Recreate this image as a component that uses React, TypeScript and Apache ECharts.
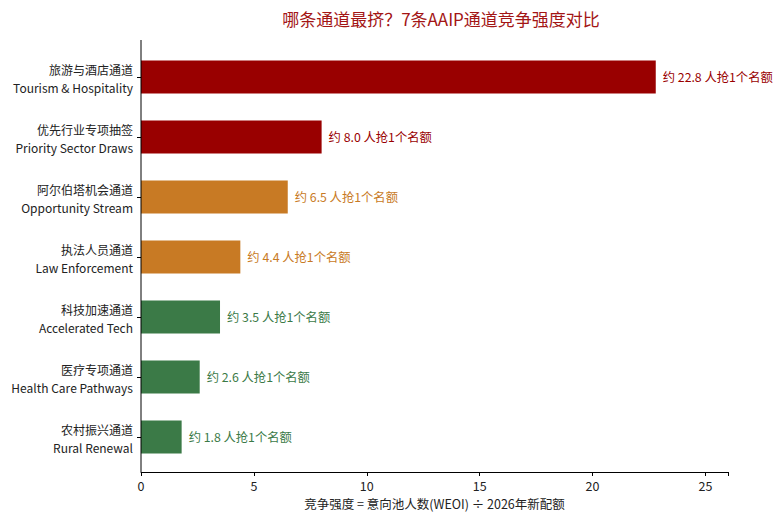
import React, { useEffect, useRef } from 'react';
import * as echarts from 'echarts';

const streamsCn = ['旅游与酒店通道', '优先行业专项抽签', '阿尔伯塔机会通道', '执法人员通道', '科技加速通道', '医疗专项通道', '农村振兴通道'];
const streamsEn = ['Tourism & Hospitality', 'Priority Sector Draws', 'Opportunity Stream', 'Law Enforcement', 'Accelerated Tech', 'Health Care Pathways', 'Rural Renewal'];
const ratios = [22.8, 8.0, 6.5, 4.4, 3.5, 2.6, 1.8];
const barColors = ['#990000', '#990000', '#c87a24', '#c87a24', '#3b7a47', '#3b7a47', '#3b7a47'];

const FONT = '"Noto Sans CJK SC", "Noto Sans", sans-serif';

export default function App() {
  const chartRef = useRef<HTMLDivElement>(null);

  useEffect(() => {
    document.body.style.margin = '0';
    if (!chartRef.current) return;
    const myChart = echarts.init(chartRef.current, null, { renderer: 'svg' });

    const option: echarts.EChartsOption = {
      animation: false,
      backgroundColor: '#ffffff',
      textStyle: { fontFamily: FONT },
      title: {
        text: '哪条通道最挤？7条AAIP通道竞争强度对比',
        left: 436,
        top: 5,
        textAlign: 'center',
        textStyle: { fontFamily: FONT, fontSize: 17, fontWeight: 'normal', color: '#a31515' },
      },
      grid: { left: 141, right: 52, top: 47, height: 420, outerBoundsMode: 'none' } as any,
      xAxis: {
        type: 'value',
        min: 0,
        max: 26,
        interval: 5,
        offset: 5,
        name: '竞争强度 = 意向池人数(WEOI) ÷ 2026年新配额',
        nameLocation: 'middle',
        nameGap: 25,
        nameTextStyle: { fontFamily: FONT, fontSize: 12.5, color: '#222' },
        axisLine: { show: true, lineStyle: { color: '#000', width: 1 } },
        axisTick: { show: true, length: 4, lineStyle: { color: '#000' } },
        axisLabel: {
          fontFamily: FONT,
          fontSize: 12.5,
          color: '#222',
          margin: 7,
          formatter: (v: number) => (v % 5 === 0 ? String(v) : ''),
        },
        splitLine: { show: false },
      },
      yAxis: [
        {
          // Chinese names, above the tick
          type: 'category',
          inverse: true,
          data: streamsCn,
          axisLine: { show: false },
          axisTick: { show: true, alignWithLabel: true, length: 4, lineStyle: { color: '#000' } },
          axisLabel: {
            fontFamily: FONT,
            fontSize: 12,
            color: '#222',
            align: 'right',
            verticalAlign: 'bottom',
            lineHeight: 15,
            margin: 8,
          },
        },
        {
          // English names, below the tick
          type: 'category',
          inverse: true,
          position: 'left',
          data: streamsEn,
          axisLine: { show: false },
          axisTick: { show: false },
          axisLabel: {
            fontFamily: FONT,
            fontSize: 12,
            color: '#222',
            align: 'right',
            verticalAlign: 'top',
            lineHeight: 20,
            margin: 8,
          },
        },
      ],
      graphic: [
        {
          type: 'line',
          shape: { x1: 141, y1: 40, x2: 141, y2: 472 },
          style: { stroke: '#000', lineWidth: 1 },
          z: 100,
        },
      ],
      series: [
        {
          type: 'bar',
          yAxisIndex: 0,
          barWidth: 33,
          data: ratios.map((v, i) => ({
            value: v,
            itemStyle: { color: barColors[i] },
            label: { color: barColors[i] },
          })),
          label: {
            show: true,
            position: 'right',
            distance: 7,
            fontFamily: FONT,
            fontSize: 12.3,
            formatter: (p: any) => '约 ' + ratios[p.dataIndex].toFixed(1) + ' 人抢1个名额',
          },
        },
      ],
    };

    myChart.setOption(option);
    const onResize = () => myChart.resize();
    window.addEventListener('resize', onResize);
    return () => {
      window.removeEventListener('resize', onResize);
      myChart.dispose();
    };
  }, []);

  return <div ref={chartRef} style={{ width: '780px', height: '521px' }} />;
}
